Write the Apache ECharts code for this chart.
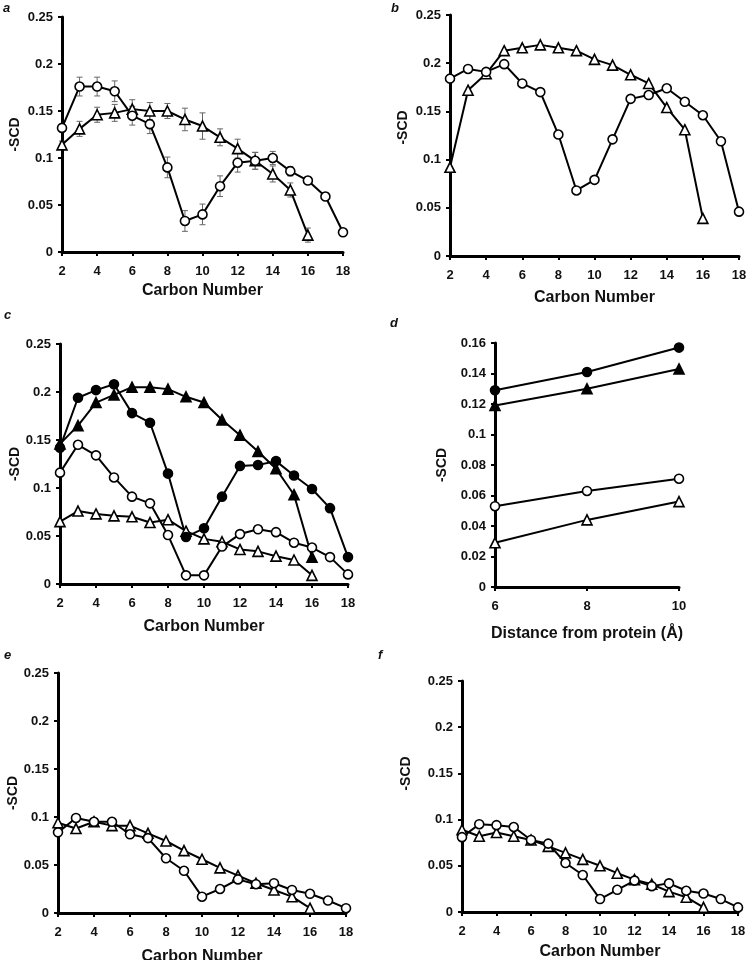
<!DOCTYPE html>
<html>
<head>
<meta charset="utf-8">
<script src="https://cdn.jsdelivr.net/npm/echarts@6/dist/echarts.min.js"></script>
<style>
html,body{margin:0;padding:0;background:#fff;}
#chart{width:746px;height:960px;}
</style>
</head>
<body>
<div id="chart"></div>
<script>
// ---- data ----
const carbons18 = [2,3,4,5,6,7,8,9,10,11,12,13,14,15,16,17,18];
const carbons16 = [2,3,4,5,6,7,8,9,10,11,12,13,14,15,16];
const distances = [6, 8, 10];

// panel a
const aCircle = [0.132,0.176,0.176,0.171,0.145,0.136,0.090,0.033,0.040,0.070,0.095,0.097,0.100,0.086,0.076,0.059,0.021];
const aCircleErr = [0.004,0.010,0.010,0.011,0.010,0.010,0.011,0.011,0.011,0.011,0.010,0.009,0.007,0.005,0.004,0.004,0.004];
const aTri = [0.114,0.131,0.146,0.148,0.152,0.150,0.150,0.141,0.134,0.122,0.110,0.097,0.083,0.066,0.018];
const aTriErr = [0.004,0.008,0.008,0.009,0.010,0.009,0.008,0.012,0.014,0.009,0.010,0.009,0.0085,0.0075,0.0075];

// panel b
const bCircle = [0.184,0.194,0.191,0.199,0.179,0.170,0.126,0.068,0.079,0.121,0.163,0.167,0.174,0.160,0.146,0.119,0.046];
const bTri = [0.092,0.172,0.189,0.213,0.216,0.219,0.216,0.213,0.204,0.198,0.188,0.179,0.154,0.131,0.039];

// panel c
const cFilledCircle = [0.142,0.194,0.202,0.208,0.178,0.168,0.115,0.049,0.058,0.091,0.123,0.124,0.128,0.113,0.099,0.079,0.028];
const cFilledTri = [0.146,0.165,0.189,0.197,0.205,0.205,0.203,0.195,0.189,0.171,0.155,0.138,0.120,0.093,0.028];
const cOpenCircle = [0.116,0.145,0.134,0.111,0.091,0.084,0.051,0.009,0.009,0.039,0.052,0.057,0.054,0.043,0.038,0.028,0.010];
const cOpenTri = [0.065,0.076,0.073,0.071,0.070,0.064,0.067,0.055,0.047,0.044,0.036,0.034,0.029,0.025,0.009];

// panel d
const dFilledCircle = [0.129,0.141,0.157];
const dFilledTri = [0.119,0.130,0.143];
const dOpenCircle = [0.053,0.063,0.071];
const dOpenTri = [0.029,0.044,0.056];

// panel e
const eCircle = [0.084,0.099,0.095,0.095,0.082,0.078,0.057,0.044,0.017,0.025,0.035,0.030,0.031,0.024,0.020,0.013,0.005];
const eTri = [0.094,0.088,0.095,0.091,0.091,0.083,0.075,0.065,0.056,0.047,0.039,0.031,0.024,0.017,0.005];

// panel f
const fCircle = [0.081,0.095,0.094,0.092,0.078,0.074,0.053,0.040,0.014,0.024,0.034,0.028,0.031,0.023,0.020,0.014,0.005];
const fTri = [0.089,0.082,0.086,0.082,0.078,0.071,0.064,0.057,0.050,0.042,0.035,0.030,0.022,0.016,0.005];

// tick labels / axis texts
const xTitleCarbon = 'Carbon Number';
const xTitleDist = 'Distance from protein (Å)';
const yTitle = '-SCD';
const panelLetters = ['a','b','c','d','e','f'];

// ---- build ----
const FONT = '"Liberation Sans", Arial, sans-serif';
const pairs = (xs, ys) => ys.map((v, i) => [xs[i], v]);

const grids = [
  {left: 62, top: 17, width: 281, height: 235},
  {left: 450, top: 15, width: 289, height: 241},
  {left: 60, top: 344, width: 288, height: 240},
  {left: 495, top: 343, width: 184, height: 244},
  {left: 58, top: 673, width: 288, height: 240},
  {left: 462, top: 681, width: 276, height: 231}
].map(g => Object.assign({outerBoundsMode: 'none', containLabel: false}, g));
const xNameGap = [31, 34, 35, 39, 36, 32];
const yNameGap = [40, 40, 38, 46, 35, 49];
const yNamePad = [[0,0,0,0],[0,0,0,16],[0,0,0,0],[0,0,0,0],[0,0,0,0],[0,0,0,46]];

const axisLine = {lineStyle: {color: '#000', width: 3}};
const axisTick = {show: true, inside: false, length: 4, lineStyle: {color: '#000', width: 2}};
const labelStyle = {color: '#111', fontFamily: FONT, fontWeight: 'bold', fontSize: 13};
const nameStyle = {color: '#111', fontFamily: FONT, fontWeight: 'bold', fontSize: 16};

const xAxes = grids.map((g, i) => {
  const isD = i === 3;
  return {
    type: 'value', gridIndex: i,
    min: isD ? 6 : 2, max: isD ? 10 : 18, interval: 2,
    axisLine: axisLine, axisTick: axisTick, splitLine: {show: false},
    axisLabel: Object.assign({margin: 13}, labelStyle),
    name: isD ? xTitleDist : xTitleCarbon,
    nameLocation: 'middle', nameGap: xNameGap[i], nameTextStyle: nameStyle
  };
});
const yAxes = grids.map((g, i) => {
  const isD = i === 3;
  return {
    type: 'value', gridIndex: i,
    min: 0, max: isD ? 0.16 : 0.25, interval: isD ? 0.02 : 0.05,
    axisLine: Object.assign({show: true}, axisLine), axisTick: axisTick, splitLine: {show: false},
    axisLabel: Object.assign({margin: 9}, labelStyle),
    name: yTitle, nameLocation: 'middle', nameGap: yNameGap[i],
    nameTextStyle: Object.assign({}, labelStyle, {fontSize: 14, padding: yNamePad[i]})
  };
});

function lineSeries(i, xs, ys, shape, filled) {
  return {
    type: 'line', xAxisIndex: i, yAxisIndex: i,
    data: pairs(xs, ys),
    symbol: shape, symbolSize: shape === 'triangle' ? 10 : 9,
    showAllSymbol: true,
    lineStyle: {color: '#000', width: 2},
    itemStyle: {color: filled ? '#000' : '#fff', borderColor: '#000', borderWidth: 1.6},
    emphasis: {disabled: true},
    z: 3, animation: false
  };
}
function errSeries(i, xs, ys, errs) {
  return {
    type: 'custom', xAxisIndex: i, yAxisIndex: i,
    data: ys.map((v, k) => [xs[k], v, errs[k]]),
    renderItem: function (params, api) {
      const x = api.value(0), y = api.value(1), e = api.value(2);
      const top = api.coord([x, y + e]);
      const bot = api.coord([x, y - e]);
      const w = 3;
      const st = {stroke: '#666', lineWidth: 1};
      return {type: 'group', children: [
        {type: 'line', shape: {x1: top[0], y1: top[1], x2: bot[0], y2: bot[1]}, style: st},
        {type: 'line', shape: {x1: top[0]-w, y1: top[1], x2: top[0]+w, y2: top[1]}, style: st},
        {type: 'line', shape: {x1: bot[0]-w, y1: bot[1], x2: bot[0]+w, y2: bot[1]}, style: st}
      ]};
    },
    z: 2, animation: false, silent: true
  };
}

const series = [
  errSeries(0, carbons18, aCircle, aCircleErr),
  errSeries(0, carbons16, aTri, aTriErr),
  lineSeries(0, carbons16, aTri, 'triangle', false),
  lineSeries(0, carbons18, aCircle, 'circle', false),

  lineSeries(1, carbons16, bTri, 'triangle', false),
  lineSeries(1, carbons18, bCircle, 'circle', false),

  lineSeries(2, carbons16, cOpenTri, 'triangle', false),
  lineSeries(2, carbons18, cOpenCircle, 'circle', false),
  lineSeries(2, carbons16, cFilledTri, 'triangle', true),
  lineSeries(2, carbons18, cFilledCircle, 'circle', true),

  lineSeries(3, distances, dOpenTri, 'triangle', false),
  lineSeries(3, distances, dOpenCircle, 'circle', false),
  lineSeries(3, distances, dFilledTri, 'triangle', true),
  lineSeries(3, distances, dFilledCircle, 'circle', true),

  lineSeries(4, carbons16, eTri, 'triangle', false),
  lineSeries(4, carbons18, eCircle, 'circle', false),

  lineSeries(5, carbons16, fTri, 'triangle', false),
  lineSeries(5, carbons18, fCircle, 'circle', false)
];

const letterPos = [[3, 2], [391, 2], [4, 309], [390, 317], [4, 649], [378, 649]];
const graphics = panelLetters.map((t, i) => ({
  type: 'text', left: letterPos[i][0], top: letterPos[i][1],
  style: {text: t, fill: '#111', font: 'italic bold 13px ' + FONT}
}));

const chart = echarts.init(document.getElementById('chart'), null, {renderer: 'canvas'});
chart.setOption({
  animation: false,
  backgroundColor: '#fff',
  grid: grids,
  xAxis: xAxes,
  yAxis: yAxes,
  series: series,
  graphic: graphics
});
</script>
</body>
</html>
